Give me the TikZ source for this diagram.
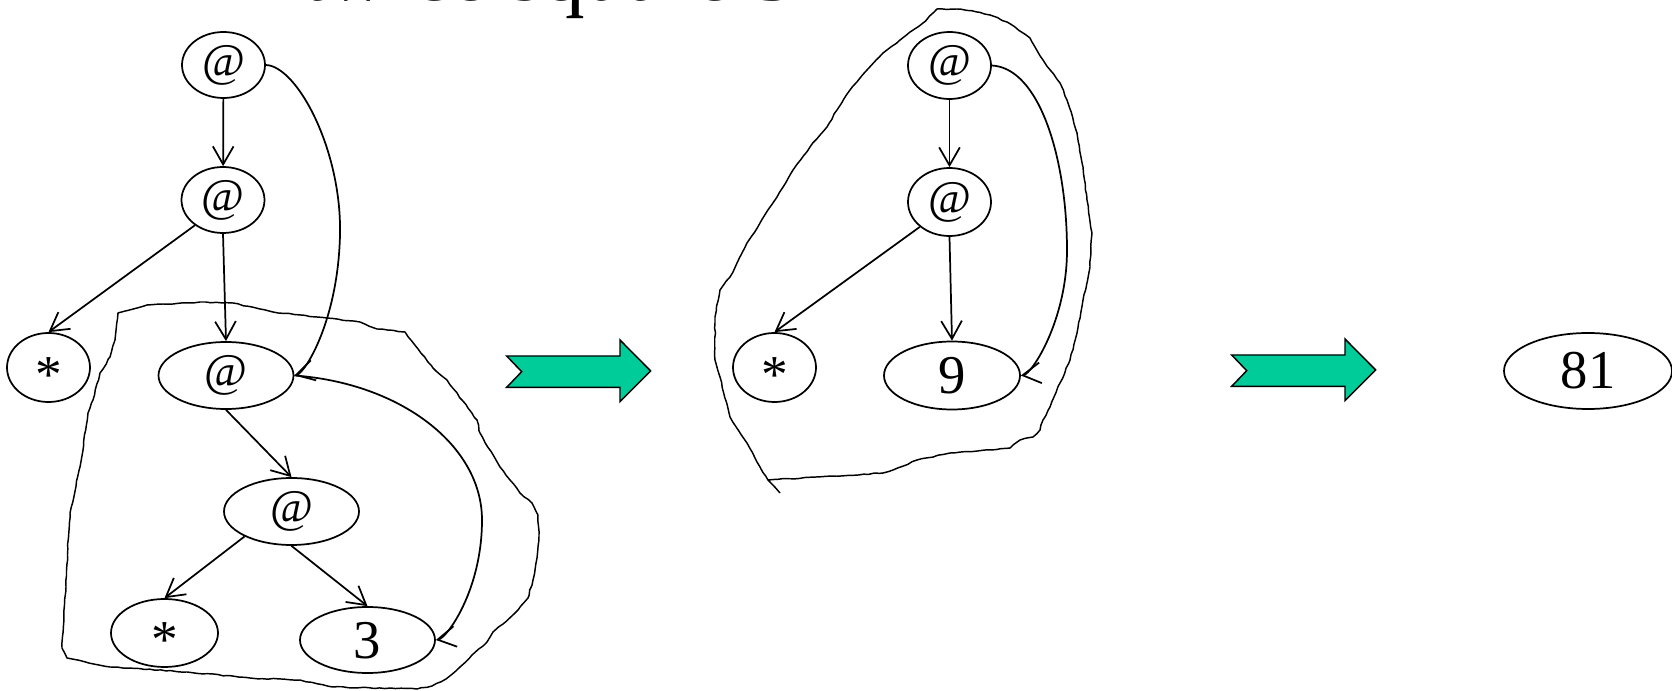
\documentclass[tikz,border=0pt]{standalone}
\usepackage{fontspec}
\setmainfont{Liberation Serif}
\usetikzlibrary{arrows.meta,shapes.geometric,decorations.pathmorphing}
\definecolor{arrowgreen}{RGB}{0,204,153}
% green "reduces to" arrow with notched tail; #1,#2 = top-left of the shaft
\newcommand{\greenarrow}[2]{%
  \draw[bigarrow,shift={(#1,#2)}] (0,0) -- (15,15.7) -- (0,31.3) -- (113.3,31.3)
    -- (113.3,45.7) -- (144,15) -- (113.3,-16) -- (113.3,0) -- cycle;}
\begin{document}
\pgfmathsetseed{11}
\begin{tikzpicture}[x=0.75pt,y=-0.75pt,
  ell/.style 2 args={ellipse,draw,line width=1.3pt,minimum width=#1*0.75pt,
    minimum height=#2*0.75pt,inner sep=0pt},
  sym/.style={font=\fontsize{35}{38}\selectfont,text height=23.8pt,text depth=7pt},
  star/.style={font=\fontsize{40}{44}\selectfont,text height=27pt,text depth=0pt},
  num/.style={font=\fontsize{41}{44}\selectfont,text height=27pt,text depth=0pt},
  edge/.style={line width=1.3pt,-{Straight Barb[length=13.5pt,width=15.5pt]}},
  blob/.style={line width=1.1pt,line join=round,decorate,
    decoration={random steps,segment length=4pt,amplitude=0.4pt}},
  bigarrow/.style={fill=arrowgreen,draw=black,line width=1.1pt,line join=miter}]

\path[use as bounding box] (0,0) rectangle (1672,691);
\clip (0,0) rectangle (1672,691);

% heading
\node[anchor=base west,inner sep=0pt,font=\fontsize{64}{70}\selectfont] (title) at (303,1) {twice square 3};

% ---- graph before reduction ----
\node[ell={83}{66},sym]  (a1) at (223.5,65)  {@};
\node[ell={83}{66},sym]  (a2) at (223,200)   {@};
\node[ell={83}{69},star] (sL) at (48.5,367.5) {\raisebox{-0.13em}{*}};
\node[ell={135}{67},sym] (a3) at (226,375.5) {@};
\node[ell={135}{67},sym] (a4) at (291.5,511.5) {@};
\node[ell={107}{68},star] (sB) at (164.5,633) {\raisebox{-0.13em}{*}};
\node[ell={135}{66},num] (t3) at (367.5,640) {3};

\draw[edge] (a1) -- (a2);
\draw[edge] (a2.222) -- (sL.north);
\draw[edge] (a2.south) -- (a3.north);
\draw[edge] (a3.south) -- (a4.north);
\draw[edge] (a4.208) -- (sB.north);
\draw[edge] (a4.south) -- (t3.north);
\draw[edge] (a1.east) .. controls (297,66) and (342,150) .. (340,235)
  .. controls (338,320) and (305.5,372.5) .. (a3.east);
\draw[edge] (a3.east) .. controls (400,383) and (482,445) .. (482,520)
  .. controls (482,590) and (447,638) .. (t3.east);

% redex outline
\draw[blob] (118,313) -- (147,305) -- (173,304) -- (200,302) -- (233,303)
  -- (273,312) -- (317,317) -- (360,322) -- (377,329) -- (405,332) -- (433,368)
  -- (447,380) -- (462,400) -- (477,420) -- (480,433) -- (500,467) -- (510,480)
  -- (520,493) -- (532,503) -- (538,515) -- (539,535) -- (537,558) -- (533,580)
  -- (528,598) -- (518,610) -- (503,624) -- (493,632) -- (487,642) -- (472,655)
  -- (460,667) -- (446,679) -- (432,686) -- (417,689) -- (333,687) -- (300,680)
  -- (250,678) -- (187,672) -- (110,667) -- (67,658) -- (62,648) -- (65,597)
  -- (70,513) -- (80,467) -- (88,413) -- (93,400) -- (100,373) -- (110,357)
  -- (115,340) -- cycle;

\greenarrow{506.7}{356}

% ---- graph after one step ----
\node[ell={83}{67},sym]  (m1) at (949.5,65.5) {@};
\node[ell={83}{68},sym]  (m2) at (949.5,202)  {@};
\node[ell={83}{69},star] (sM) at (774.5,367.5) {\raisebox{-0.13em}{*}};
\node[ell={136}{68},num] (n9) at (952,375.5)  {9};

\draw[edge] (m1) -- (m2);
\draw[edge] (m2.220) -- (sM.north);
\draw[edge] (m2.south) -- (n9.north);
\draw[edge] (m1.east) .. controls (1040,68) and (1067,160) .. (1067,250)
  .. controls (1067,320) and (1032,374) .. (n9.east);

\draw[blob] (768,480) -- (883,473) -- (893,470) -- (917,460) -- (950,453)
  -- (990,450) -- (1010,448) -- (1020,440) -- (1033,437) -- (1040,430)
  -- (1043,420) -- (1050,407) -- (1060,383) -- (1070,360) -- (1077,333)
  -- (1083,300) -- (1090,267) -- (1092,233) -- (1087,200) -- (1083,167)
  -- (1077,133) -- (1067,100) -- (1060,83) -- (1043,60) -- (1030,38)
  -- (1023,33) -- (1007,22) -- (990,15) -- (977,12) -- (957,9) -- (937,9)
  -- (923,23) -- (900,40) -- (883,53) -- (867,70) -- (850,90) -- (837,110)
  -- (827,127) -- (810,147) -- (793,170) -- (777,197) -- (760,223) -- (747,243)
  -- (737,263) -- (730,277) -- (720,290) -- (715,317) -- (715,360) -- (720,377)
  -- (730,417) -- (747,443) -- (760,467) -- (768,480) -- (780,493);

\greenarrow{1231.7}{355}

% ---- result ----
\node[ell={168}{76},num] (r81) at (1588,371) {81};

\end{tikzpicture}
\end{document}
